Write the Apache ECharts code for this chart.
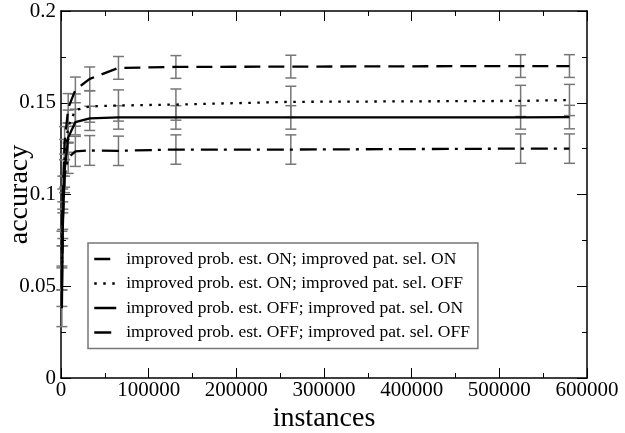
<!DOCTYPE html>
<html>
<head>
<meta charset="utf-8">
<script src="https://cdn.jsdelivr.net/npm/echarts@6/dist/echarts.min.js"></script>
<style>html,body{margin:0;padding:0;background:#fff}#c{width:625px;height:433px}</style>
</head>
<body>
<div id="c"></div>
<script>
const instances = [1024, 2048, 4096, 8192, 16384, 32768, 65536, 131072, 262144, 524288, 580000];
const onOn   = [0.070, 0.100, 0.128, 0.147, 0.157, 0.163, 0.169, 0.1695, 0.1697, 0.170, 0.170];
const onOff  = [0.060, 0.092, 0.120, 0.137, 0.146, 0.148, 0.1485, 0.149, 0.1505, 0.151, 0.1515];
const offOn  = [0.038, 0.082, 0.113, 0.131, 0.1395, 0.1415, 0.142, 0.142, 0.142, 0.142, 0.1422];
const offOff = [0.050, 0.086, 0.110, 0.120, 0.1235, 0.124, 0.1238, 0.1245, 0.1245, 0.125, 0.125];
const errOnOn   = [0.010, 0.010, 0.009, 0.008, 0.007, 0.0065, 0.0062, 0.0062, 0.0062, 0.0062, 0.0062];
const errOnOff  = [0.012, 0.011, 0.010, 0.009, 0.0088, 0.0086, 0.0085, 0.0085, 0.0085, 0.0085, 0.0085];
const errOffOn  = [0.010, 0.010, 0.009, 0.008, 0.007, 0.0066, 0.0064, 0.0064, 0.0064, 0.0064, 0.0064];
const errOffOff = [0.011, 0.010, 0.009, 0.0085, 0.0082, 0.0081, 0.0080, 0.0080, 0.0080, 0.0080, 0.0080];
const names = [
  'improved prob. est. ON; improved pat. sel. ON',
  'improved prob. est. ON; improved pat. sel. OFF',
  'improved prob. est. OFF; improved pat. sel. ON',
  'improved prob. est. OFF; improved pat. sel. OFF'
];
const yTickLabels = ['0', '0.05', '0.1', '0.15', '0.2'];
const xTickLabels = ['0', '100000', '200000', '300000', '400000', '500000', '600000'];

const FONT = "'Liberation Serif', 'DejaVu Serif', serif";
const vals = [onOn, onOff, offOn, offOff];
const errs = [errOnOn, errOnOff, errOffOn, errOffOff];
const dashes = [[16, 8], [2.5, 6.5], 'solid', [17, 6, 3, 7]];

function pairs(v) { return instances.map((x, i) => [x, v[i]]); }
function errData(v, e) { return instances.map((x, i) => [x, v[i] - e[i], v[i] + e[i]]); }

function errRender(params, api) {
  const x = api.value(0);
  const lo = api.coord([x, api.value(1)]);
  const hi = api.coord([x, api.value(2)]);
  const w = 5.5;
  const st = { stroke: '#777', lineWidth: 1.5, fill: null };
  return {
    type: 'group',
    children: [
      { type: 'line', shape: { x1: lo[0], y1: lo[1], x2: hi[0], y2: hi[1] }, style: st },
      { type: 'line', shape: { x1: lo[0] - w, y1: lo[1], x2: lo[0] + w, y2: lo[1] }, style: st },
      { type: 'line', shape: { x1: hi[0] - w, y1: hi[1], x2: hi[0] + w, y2: hi[1] }, style: st }
    ]
  };
}

const series = [];
for (let k = 0; k < 4; k++) {
  series.push({
    type: 'custom', name: 'err' + k, renderItem: errRender,
    data: errData(vals[k], errs[k]), encode: { x: 0, y: [1, 2] }, z: 1, silent: true
  });
}
for (let k = 0; k < 4; k++) {
  series.push({
    type: 'line', name: names[k], data: pairs(vals[k]), symbol: 'none', z: 3,
    lineStyle: { color: '#000', width: 2.3, type: dashes[k] },
    itemStyle: { color: '#000' }
  });
}

const axisCommon = {
  axisLine: { show: true, onZero: false, lineStyle: { color: '#000', width: 1.5 } },
  axisTick: { show: true, inside: true, length: 10, lineStyle: { color: '#000', width: 1 } },
  minorTick: { show: true, splitNumber: 2, length: 5, lineStyle: { color: '#000', width: 1 } },
  splitLine: { show: false }
};

const chart = echarts.init(document.getElementById('c'), null, { renderer: 'canvas' });
chart.setOption({
  animation: false,
  backgroundColor: '#fff',
  grid: { left: 61, right: 38, top: 11, bottom: 55, outerBoundsMode: 'none', containLabel: false },
  xAxis: [
    Object.assign({
      type: 'value', min: 0, max: 600000, interval: 100000, position: 'bottom',
      name: 'instances', nameLocation: 'middle', nameGap: 27, nameMoveOverlap: false,
      nameTextStyle: { fontFamily: FONT, fontSize: 28, color: '#000' },
      axisLabel: { fontFamily: FONT, fontSize: 21, color: '#000', margin: 2,
        formatter: v => xTickLabels[Math.round(v / 100000)] }
    }, axisCommon),
    Object.assign({
      type: 'value', min: 0, max: 600000, interval: 100000, position: 'top',
      axisLabel: { show: false }
    }, axisCommon)
  ],
  yAxis: [
    Object.assign({
      type: 'value', min: 0, max: 0.2, interval: 0.05, position: 'left',
      name: 'accuracy', nameLocation: 'middle', nameGap: 27, nameMoveOverlap: false,
      nameTextStyle: { fontFamily: FONT, fontSize: 28, color: '#000' },
      axisLabel: { fontFamily: FONT, fontSize: 21, color: '#000', margin: 5,
        formatter: v => yTickLabels[Math.round(v / 0.05)] }
    }, axisCommon),
    Object.assign({
      type: 'value', min: 0, max: 0.2, interval: 0.05, position: 'right',
      axisLabel: { show: false }
    }, axisCommon)
  ],
  legend: {
    data: names, orient: 'vertical', left: 88, top: 243,
    padding: [6, 8, 6, 5], itemWidth: 22, itemHeight: 14, itemGap: 4.5,
    borderColor: '#777', borderWidth: 1.5, backgroundColor: '#fff',
    itemStyle: { opacity: 0 },
    lineStyle: { width: 2.5 },
    textStyle: { fontFamily: FONT, fontSize: 17.5, color: '#000', lineHeight: 20, padding: [0, 0, 0, 5] }
  },
  series: series
});
</script>
</body>
</html>
